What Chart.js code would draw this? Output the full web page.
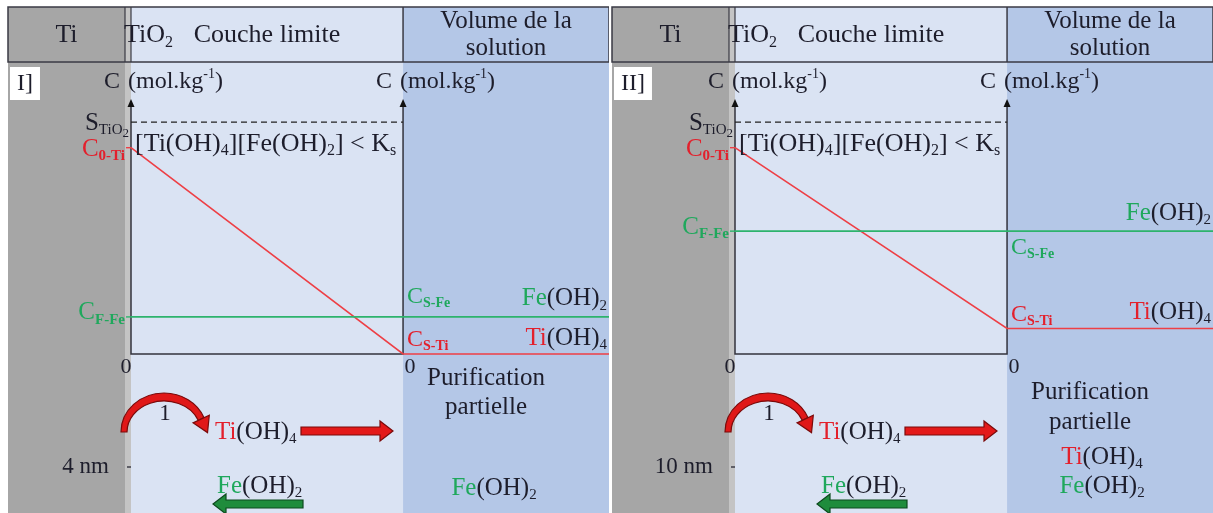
<!DOCTYPE html>
<html>
<head>
<meta charset="utf-8">
<script src="https://cdn.jsdelivr.net/npm/chart.js@4.4.1/dist/chart.umd.min.js"></script>
<style>
  html, body { margin: 0; padding: 0; background: #fff; }
  .panel { position: absolute; top: 0; }
</style>
</head>
<body>
<canvas id="panel1" class="panel" style="left:0px" width="609" height="513"></canvas>
<canvas id="panel2" class="panel" style="left:604px" width="609" height="513"></canvas>
<script>
/* ── data (C in arbitrary units, S_TiO2 = 1) ── */
const panelIds = ['I]', 'II]'];
const layerThickness = ['4 nm', '10 nm'];
const sTiO2 = [1.0, 1.0];
const c0Ti = [0.89, 0.89];
const csTi = [0.0, 0.11];
const cfFe = [0.16, 0.53];
const csFe = [0.16, 0.53];
const bulkSpecies = [['Fe'], ['Ti', 'Fe']];
const feLabelSide = ['above', 'below'];

const X_MAX = 1.757;   // bulk solution shown up to the panel edge
const Y_MAX = 1.10;

/* ── styles ── */
const INK = '#1d1d2b';
const RED_TXT = '#e3202c', RED_LINE = '#ee3f45';
const GREEN_TXT = '#1fa85c', GREEN_LINE = '#2db36c';
const GRAY = '#a6a6a6', OXIDE = '#c4c4c4', LAYER = '#dae3f3', BULK = '#b4c7e7';
const FONT = '"Liberation Serif", "DejaVu Serif", serif';
const PANEL_L = 8, PANEL_R = 609, TOP = 7, HEAD_B = 62, BOTTOM = 513;

function font(size, bold) { return (bold ? 'bold ' : '') + size + 'px ' + FONT; }

// parts: [text, color, mode]  mode: '' | 'sub' | 'bsub' | 'sup' | 'subsub'
function rich(ctx, parts, x, y, align, size) {
    let w = 0;
    const items = parts.map(p => {
        const t = p[0], c = p[1] || INK, m = p[2] || '';
        let s = size, dy = 0;
        if (m === 'sub' || m === 'bsub') { s = Math.round(size * 0.6); dy = size * 0.27; }
        if (m === 'sup') { s = Math.round(size * 0.6); dy = -size * 0.3; }
        if (m === 'subsub') { s = Math.round(size * 0.5); dy = size * 0.42; }
        const b = m === 'bsub';
        ctx.font = font(s, b);
        const tw = ctx.measureText(t).width;
        w += tw;
        return { t, c, s, b, tw, dy };
    });
    let cx = align === 'right' ? x - w : align === 'center' ? x - w / 2 : x;
    ctx.textAlign = 'left';
    ctx.textBaseline = 'middle';
    items.forEach(it => {
        ctx.font = font(it.s, it.b);
        ctx.fillStyle = it.c;
        ctx.fillText(it.t, cx, y + it.dy);
        cx += it.tw;
    });
    return w;
}

function hydroxide(metal) {
    return metal === 'Ti'
        ? [['Ti', RED_TXT], ['(OH)'], ['4', INK, 'sub']]
        : [['Fe', GREEN_TXT], ['(OH)'], ['2', INK, 'sub']];
}

function blockArrow(ctx, xa, xb, y, fill, edge) {
    const dir = Math.sign(xb - xa), sh = 4, hh = 10, hl = 13;
    const xh = xb - dir * hl;
    ctx.beginPath();
    ctx.moveTo(xa, y - sh); ctx.lineTo(xh, y - sh); ctx.lineTo(xh, y - hh);
    ctx.lineTo(xb, y); ctx.lineTo(xh, y + hh); ctx.lineTo(xh, y + sh);
    ctx.lineTo(xa, y + sh); ctx.closePath();
    ctx.fillStyle = fill; ctx.fill();
    ctx.strokeStyle = edge; ctx.lineWidth = 1.2; ctx.stroke();
}

// crescent-shaped curved arrow, thicker at the top
function curvedArrow(ctx, cx, cy, rx, ry) {
    const a0 = Math.PI, a1 = 2 * Math.PI - 0.38;
    ctx.beginPath();
    ctx.ellipse(cx, cy, rx + 3, ry + 5, 0, a0, a1);
    ctx.ellipse(cx, cy, rx - 3, ry - 3, 0, a1, a0, true);
    ctx.closePath();
    ctx.fillStyle = '#e01818'; ctx.fill();
    ctx.strokeStyle = '#7a0a0a'; ctx.lineWidth = 1.2; ctx.stroke();
    // head
    const ex = cx + rx * Math.cos(a1), ey = cy + (ry + 1) * Math.sin(a1);
    let tx = -rx * Math.sin(a1), ty = ry * Math.cos(a1);
    const n = Math.hypot(tx, ty); tx /= n; ty /= n;
    const px = -ty, py = tx;
    ctx.beginPath();
    ctx.moveTo(ex + px * 9, ey + py * 9);
    ctx.lineTo(ex + tx * 15, ey + ty * 15);
    ctx.lineTo(ex - px * 9, ey - py * 9);
    ctx.closePath();
    ctx.fillStyle = '#e01818'; ctx.fill();
    ctx.strokeStyle = '#7a0a0a'; ctx.lineWidth = 1.2; ctx.stroke();
}

function line(ctx, xa, ya, xb, yb, color, w) {
    ctx.beginPath(); ctx.moveTo(xa, ya); ctx.lineTo(xb, yb);
    ctx.strokeStyle = color; ctx.lineWidth = w; ctx.stroke();
}

/* ── diagram plugin: regions, header, axes, labels ── */
function diagramPlugin(i) {
    return {
        id: 'diagram' + i,
        beforeDraw(chart) {
            const { ctx, scales: { x, y } } = chart;
            const x0 = x.getPixelForValue(0), x1 = x.getPixelForValue(1);
            ctx.save();
            ctx.fillStyle = GRAY; ctx.fillRect(PANEL_L, TOP, x0 - 6 - PANEL_L, BOTTOM - TOP);
            ctx.fillStyle = OXIDE; ctx.fillRect(x0 - 6, TOP, 6, BOTTOM - TOP);
            ctx.fillStyle = LAYER; ctx.fillRect(x0, TOP, x1 - x0, BOTTOM - TOP);
            ctx.fillStyle = BULK; ctx.fillRect(x1, TOP, PANEL_R - x1, BOTTOM - TOP);

            // header frame
            ctx.strokeStyle = '#3a3a44'; ctx.lineWidth = 1.5;
            ctx.strokeRect(PANEL_L, TOP, PANEL_R - PANEL_L, HEAD_B - TOP);
            [x0 - 6, x0].forEach(v => line(ctx, v, TOP, v, HEAD_B, '#3a3a44', 1.2));
            line(ctx, x1, TOP, x1, HEAD_B, '#3a3a44', 1.5);
            const hy = (TOP + HEAD_B) / 2 + 1;
            rich(ctx, [['Ti']], (PANEL_L + x0 - 6) / 2, hy, 'center', 26);
            rich(ctx, [['TiO'], ['2', INK, 'sub']], x0 - 7, hy, 'left', 26);
            rich(ctx, [['Couche limite']], (x0 + x1) / 2, hy, 'center', 26);
            rich(ctx, [['Volume de la']], (x1 + PANEL_R) / 2, TOP + 14, 'center', 25);
            rich(ctx, [['solution']], (x1 + PANEL_R) / 2, TOP + 41, 'center', 25);

            // panel tag
            ctx.font = font(24);
            const tw = ctx.measureText(panelIds[i]).width;
            ctx.fillStyle = '#fff'; ctx.fillRect(PANEL_L + 2, 67, tw + 14, 33);
            rich(ctx, [[panelIds[i]]], PANEL_L + 9, 84, 'left', 24);

            // axis units
            [x0, x1].forEach(ax => {
                rich(ctx, [['C']], ax - 11, 82, 'right', 24);
                rich(ctx, [['(mol.kg'], ['-1', INK, 'sup'], [')']], ax - 3, 82, 'left', 24);
            });
            ctx.restore();
        },
        beforeDatasetsDraw(chart) {
            const { ctx, chartArea: a, scales: { x, y } } = chart;
            const x0 = x.getPixelForValue(0), x1 = x.getPixelForValue(1), yb = y.getPixelForValue(0);
            ctx.save();
            ctx.strokeStyle = '#33333d'; ctx.lineWidth = 1.5;
            ctx.beginPath();
            ctx.moveTo(x0, a.top + 6); ctx.lineTo(x0, yb); ctx.lineTo(x1, yb); ctx.lineTo(x1, a.top + 6);
            ctx.stroke();
            ctx.fillStyle = '#111';
            [x0, x1].forEach(ax => {
                ctx.beginPath(); ctx.moveTo(ax, a.top); ctx.lineTo(ax - 3.5, a.top + 8); ctx.lineTo(ax + 3.5, a.top + 8);
                ctx.closePath(); ctx.fill();
            });
            ctx.restore();
        },
        afterDatasetsDraw(chart) {
            const { ctx, scales: { x, y } } = chart;
            const x0 = x.getPixelForValue(0), x1 = x.getPixelForValue(1), xr = x.getPixelForValue(X_MAX);
            const yS = y.getPixelForValue(sTiO2[i]), yC0 = y.getPixelForValue(c0Ti[i]);
            const yF = y.getPixelForValue(cfFe[i]), ySF = y.getPixelForValue(csFe[i]);
            const yST = y.getPixelForValue(csTi[i]), y0 = y.getPixelForValue(0);
            ctx.save();

            // left axis labels
            line(ctx, x0 - 5, yC0, x0, yC0, RED_LINE, 1.4);
            line(ctx, x0 - 5, yF, x0, yF, GREEN_LINE, 1.4);
            rich(ctx, [['S'], ['TiO', INK, 'sub'], ['2', INK, 'subsub']], x0 - 2, yS + 1, 'right', 25);
            rich(ctx, [['C', RED_TXT], ['0-Ti', RED_TXT, 'bsub']], x0 - 6, yC0 + 2, 'right', 25);
            rich(ctx, [['C', GREEN_TXT], ['F-Fe', GREEN_TXT, 'bsub']], x0 - 6, yF - 4, 'right', 25);
            rich(ctx, [['[Ti(OH)'], ['4', INK, 'sub'], ['][Fe(OH)'], ['2', INK, 'sub'], ['] < K'], ['s', INK, 'sub']],
                x0 + 4, yS + 22, 'left', 26);

            // bulk side labels
            const feDy = feLabelSide[i] === 'above' ? -20 : 17;
            rich(ctx, [['C', GREEN_TXT], ['S-Fe', GREEN_TXT, 'bsub']], x1 + 4, ySF + feDy, 'left', 24);
            rich(ctx, hydroxide('Fe'), xr - 2, ySF - 18, 'right', 25);
            rich(ctx, [['C', RED_TXT], ['S-Ti', RED_TXT, 'bsub']], x1 + 4, yST - 14, 'left', 24);
            rich(ctx, hydroxide('Ti'), xr - 2, yST - 16, 'right', 25);

            // zeros
            rich(ctx, [['0']], x0 - 5, y0 + 13, 'center', 22);
            rich(ctx, [['0']], x1 + 7, y0 + 13, 'center', 22);

            // bulk notes
            const cx = x1 + 83;
            const notes = bulkSpecies[i].length > 1 ? [392, 422] : [378, 407];
            rich(ctx, [['Purification']], cx, notes[0], 'center', 25);
            rich(ctx, [['partielle']], cx, notes[1], 'center', 25);
            const sy = bulkSpecies[i].length > 1 ? [457, 486] : [488];
            bulkSpecies[i].forEach((m, k) => rich(ctx, hydroxide(m), cx + (bulkSpecies[i].length > 1 ? 12 : 8), sy[k], 'center', 25));

            // transport through the boundary layer
            curvedArrow(ctx, x0 + 33, 432, 40, 34);
            rich(ctx, [['1']], x0 + 34, 414, 'center', 23);
            rich(ctx, hydroxide('Ti'), x0 + 84, 432, 'left', 25);
            blockArrow(ctx, x0 + 170, x0 + 262, 431, '#e31919', '#7a0a0a');
            rich(ctx, [[layerThickness[i]]], x0 - 22, 467, 'right', 23);
            line(ctx, x0 - 4, 467, x0, 467, INK, 1.2);
            rich(ctx, hydroxide('Fe'), x0 + 86, 486, 'left', 25);
            blockArrow(ctx, x0 + 172, x0 + 82, 504, '#1f8c3c', '#0d4a1e');
            ctx.restore();
        }
    };
}

function makePanel(i, id) {
    return new Chart(document.getElementById(id), {
        type: 'line',
        data: {
            datasets: [
                { data: [{ x: 0, y: sTiO2[i] }, { x: 1, y: sTiO2[i] }], borderColor: '#222', borderWidth: 1.3, borderDash: [6, 4] },
                { data: [{ x: 0, y: cfFe[i] }, { x: 1, y: csFe[i] }, { x: X_MAX, y: csFe[i] }], borderColor: GREEN_LINE, borderWidth: 1.6 },
                { data: [{ x: 0, y: c0Ti[i] }, { x: 1, y: csTi[i] }, { x: X_MAX, y: csTi[i] }], borderColor: RED_LINE, borderWidth: 1.6 },
            ]
        },
        options: {
            responsive: false,
            animation: false,
            devicePixelRatio: 1,
            layout: { padding: { left: 131, right: 0, top: 99, bottom: 159 } },
            elements: { point: { radius: 0 }, line: { tension: 0 } },
            datasets: { line: { clip: false } },
            plugins: { legend: { display: false }, tooltip: { enabled: false } },
            scales: {
                x: { type: 'linear', min: 0, max: X_MAX, display: false },
                y: { type: 'linear', min: 0, max: Y_MAX, display: false }
            }
        },
        plugins: [diagramPlugin(i)]
    });
}

makePanel(0, 'panel1');
makePanel(1, 'panel2');
</script>
</body>
</html>
